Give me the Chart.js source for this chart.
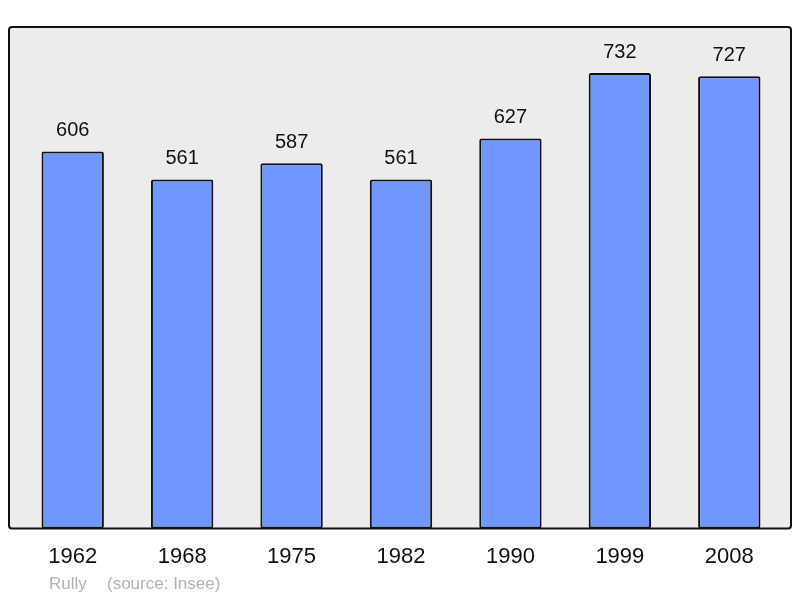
<!DOCTYPE html>
<html>
<head>
<meta charset="utf-8">
<script src="https://cdn.jsdelivr.net/npm/chart.js@4"></script>
<style>
  html, body { margin: 0; padding: 0; background: #fff; }
  #wrap { width: 800px; height: 598px; }
</style>
</head>
<body>
<div id="wrap"><canvas id="popChart" width="800" height="598"></canvas></div>
<script>
// --- data ---
const years = ['1962', '1968', '1975', '1982', '1990', '1999', '2008'];
const population = [606, 561, 587, 561, 627, 732, 727];
const townName = 'Rully';
const sourceNote = '(source: Insee)';

// frame behind the bars (grey box with black border)
const framePlugin = {
    id: 'frame',
    beforeDraw(chart) {
        const { ctx, chartArea } = chart;
        const x = chartArea.left - 9, y = chartArea.top;
        const w = chartArea.right - chartArea.left + 16, h = chartArea.bottom - chartArea.top;
        ctx.save();
        ctx.beginPath();
        ctx.roundRect(x, y, w, h, 3);
        ctx.fillStyle = '#ececec';
        ctx.fill();
        ctx.restore();
    },
    afterDatasetsDraw(chart) {
        const { ctx, chartArea } = chart;
        const x = chartArea.left - 9, y = chartArea.top;
        const w = chartArea.right - chartArea.left + 16, h = chartArea.bottom - chartArea.top;
        ctx.save();
        ctx.beginPath();
        ctx.roundRect(x, y, w, h, 3);
        ctx.lineWidth = 2;
        ctx.strokeStyle = '#111';
        ctx.stroke();

        // value labels above each bar
        const meta = chart.getDatasetMeta(0);
        ctx.fillStyle = '#111';
        ctx.font = '20px "Liberation Sans", Arial, sans-serif';
        ctx.textAlign = 'center';
        ctx.textBaseline = 'middle';
        meta.data.forEach((bar, i) => {
            ctx.fillText(String(population[i]), bar.x, bar.y - 21);
        });

        // footer text
        ctx.fillStyle = '#b4b4b4';
        ctx.font = '17px "Liberation Sans", Arial, sans-serif';
        ctx.textAlign = 'left';
        ctx.fillText(townName, 49, 584);
        ctx.fillText(sourceNote, 107, 584);
        ctx.restore();
    }
};

new Chart(document.getElementById('popChart'), {
    type: 'bar',
    data: {
        labels: years,
        datasets: [{
            data: population,
            backgroundColor: '#7097ff',
            borderColor: '#111',
            borderWidth: 2,
            borderRadius: 2,
            borderSkipped: false,
            barPercentage: 0.57,
            categoryPercentage: 1
        }]
    },
    options: {
        responsive: false,
        animation: false,
        layout: { padding: { left: 18, right: 16, top: 27, bottom: 13 } },
        plugins: { legend: { display: false }, tooltip: { enabled: false } },
        scales: {
            x: {
                grid: { display: false, drawTicks: false },
                border: { display: false },
                ticks: {
                    color: '#111',
                    padding: 15,
                    font: { family: '"Liberation Sans", Arial, sans-serif', size: 22 }
                }
            },
            y: {
                display: false,
                min: 0,
                max: 806
            }
        }
    },
    plugins: [framePlugin]
});
</script>
</body>
</html>
